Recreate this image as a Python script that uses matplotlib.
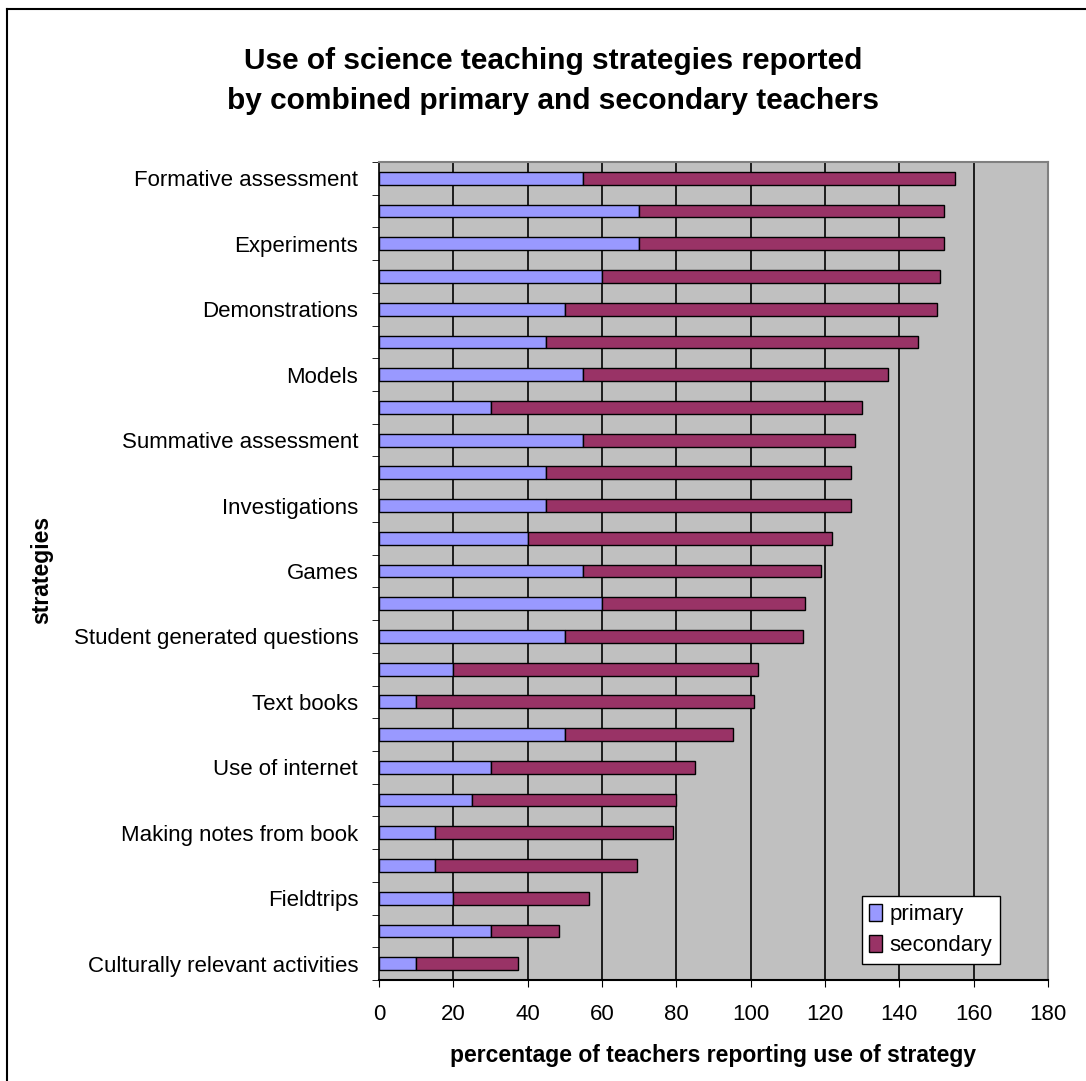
import numpy as np
import matplotlib
matplotlib.use('Agg')
import matplotlib.pyplot as plt
from matplotlib.lines import Line2D

plt.rcParams['font.family'] = ['Liberation Sans', 'DejaVu Sans']

# labels shown on every other bar in the original chart
labels = ['Formative assessment', '', 'Experiments', '', 'Demonstrations', '',
          'Models', '', 'Summative assessment', '', 'Investigations', '',
          'Games', '', 'Student generated questions', '', 'Text books', '',
          'Use of internet', '', 'Making notes from book', '', 'Fieldtrips', '',
          'Culturally relevant activities']
primary = [55, 70, 70, 60, 50, 45, 55, 30, 55, 45, 45, 40, 55, 60, 50, 20, 10,
           50, 30, 25, 15, 15, 20, 30, 10]
total = [155, 152, 152, 151, 150, 145, 137, 130, 128, 127, 127, 122, 119, 114.5,
         114, 102, 101, 95.3, 85, 80, 79, 69.5, 56.6, 48.4, 37.3]
secondary = [t - p for t, p in zip(total, primary)]

fig = plt.figure(figsize=(10.86, 10.81), dpi=100)
ax = fig.add_axes([379 / 1086, 1 - 980 / 1081, 669 / 1086, 818 / 1081])

y = np.arange(len(labels))
ax.set_facecolor('#C0C0C0')
ax.barh(y, primary, height=0.39, color='#9999FF', edgecolor='black', linewidth=1.0,
        label='primary', zorder=3)
ax.barh(y, secondary, left=primary, height=0.39, color='#993366', edgecolor='black',
        linewidth=1.0, label='secondary', zorder=3)

ax.set_xlim(0, 180)
ax.set_ylim(len(labels) - 0.5, -0.5)
ax.set_xticks(np.arange(0, 181, 20))
ax.tick_params(axis='x', labelsize=16, length=5, direction='out', pad=12)
ax.set_yticks(y)
ax.set_yticklabels(labels, fontsize=16)
ax.set_yticks(np.arange(-0.5, len(labels), 1), minor=True)
ax.tick_params(axis='y', which='major', length=0, pad=15)
ax.tick_params(axis='y', which='minor', length=5, direction='out')

for gx in range(20, 180, 20):
    ax.axvline(gx, color='black', linewidth=1.2, zorder=1)

for s in ['top', 'right']:
    ax.spines[s].set_color('#808080')
    ax.spines[s].set_linewidth(1.5)
ax.spines['left'].set_linewidth(1.2)
ax.spines['bottom'].set_linewidth(1.5)

ax.set_xlabel('percentage of teachers reporting use of strategy', fontsize=16.5,
              fontweight='bold', labelpad=14)
fig.text(42 / 1086, 1 - 570 / 1081, 'strategies', rotation=90, fontsize=16.5,
         fontweight='bold', ha='center', va='center')

fig.text(553 / 1086, 1 - 81 / 1081,
         'Use of science teaching strategies reported\nby combined primary and secondary teachers',
         fontsize=21.5, fontweight='bold', ha='center', va='center', linespacing=1.55)

leg = ax.legend(loc='lower right', bbox_to_anchor=(1000 / 1086, 1 - 964 / 1081),
                bbox_transform=fig.transFigure, fontsize=16, frameon=True,
                fancybox=False, edgecolor='black', framealpha=1,
                handlelength=0.55, handleheight=0.8, handletextpad=0.35,
                borderpad=0.35, labelspacing=0.45, borderaxespad=0)
leg.get_frame().set_linewidth(1.0)

# outer chart border (only top and left visible)
fig.add_artist(Line2D([7 / 1086, 7 / 1086], [0, 1 - 9 / 1081], color='black',
                      linewidth=1.5, transform=fig.transFigure))
fig.add_artist(Line2D([7 / 1086, 1], [1 - 9 / 1081, 1 - 9 / 1081], color='black',
                      linewidth=1.5, transform=fig.transFigure))

plt.savefig('out.png', dpi=100)
